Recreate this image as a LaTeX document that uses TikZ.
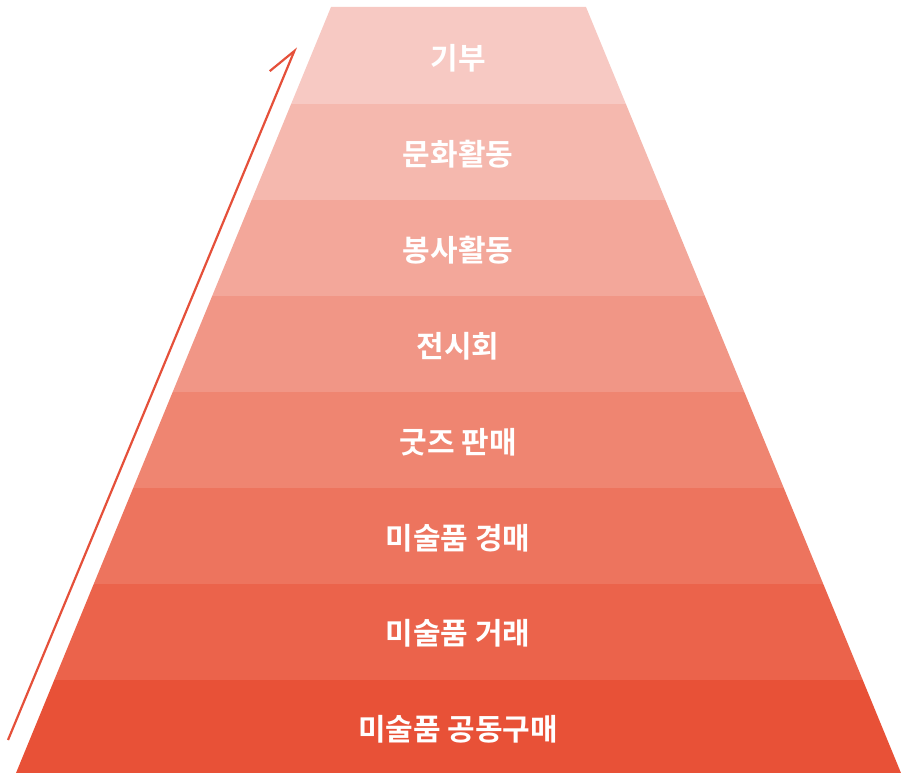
\documentclass[tikz,border=0pt]{standalone}
\usepackage{fontspec}
\newfontfamily\kr{Noto Sans CJK KR}[BoldFont={Noto Sans CJK KR Bold}]
\usetikzlibrary{arrows.meta}
\definecolor{b1}{HTML}{F7C9C3}
\definecolor{b2}{HTML}{F5B8AE}
\definecolor{b3}{HTML}{F3A79A}
\definecolor{b4}{HTML}{F19686}
\definecolor{b5}{HTML}{EF8571}
\definecolor{b6}{HTML}{ED745E}
\definecolor{b7}{HTML}{EB634B}
\definecolor{b8}{HTML}{E85137}
\definecolor{arrowc}{HTML}{E5503A}
\begin{document}
\begin{tikzpicture}[x=1pt,y=-1pt,
  label/.style={text=white,font=\kr\bfseries\fontsize{30}{30}\selectfont,inner sep=0pt,anchor=center},
  riser/.style={draw=arrowc,line width=2.2pt,-{Straight Barb[left,length=28pt,width=30pt,line width=2.2pt]}}]
\useasboundingbox (0,0) rectangle (909,773);
\begin{scope}
\clip (331,7) -- (586,7) -- (901,773) -- (16,773) -- cycle;
\fill[b1] (0,0) rectangle (909,104);
\fill[b2] (0,104) rectangle (909,200);
\fill[b3] (0,200) rectangle (909,296);
\fill[b4] (0,296) rectangle (909,392);
\fill[b5] (0,392) rectangle (909,488);
\fill[b6] (0,488) rectangle (909,584);
\fill[b7] (0,584) rectangle (909,680);
\fill[b8] (0,680) rectangle (909,773);
\end{scope}
\node[label] (t1) at (458,58) {기부};
\node[label] (t2) at (458,154) {문화활동};
\node[label] (t3) at (458,250) {봉사활동};
\node[label] (t4) at (458,346) {전시회};
\node[label] (t5) at (458,442) {굿즈 판매};
\node[label] (t6) at (458,538) {미술품 경매};
\node[label] (t7) at (458,633) {미술품 거래};
\node[label] (t8) at (458,729) {미술품 공동구매};
\coordinate (s) at (8,740);
\coordinate (e) at (296,47);
\draw[riser] (s) -- (e);
\end{tikzpicture}
\end{document}
